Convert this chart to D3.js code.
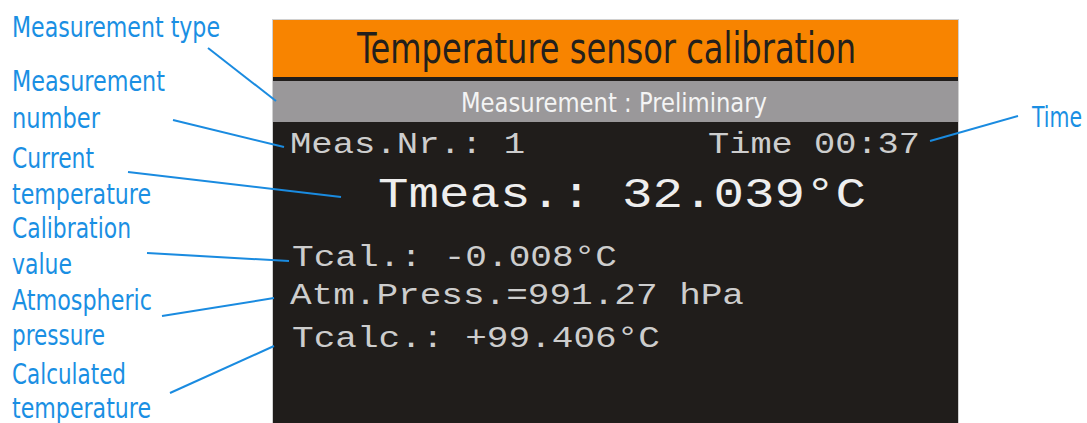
<!DOCTYPE html>
<meta charset="utf-8">
<style>
    body { margin: 0; background: #fff; }
    .lbl { font-family: "Liberation Sans Narrow", "DejaVu Sans Condensed", "Roboto Condensed", sans-serif; fill: #1a8fe3; }
    .mono { font-family: "Liberation Mono", "DejaVu Sans Mono", monospace; fill: #dcdcdc; }
    .lead { stroke: #1a8be0; stroke-width: 2; fill: none; }
</style>
<body>
<script src="https://cdn.jsdelivr.net/npm/d3@7"></script>
<script>

    var width = 1087,
        height = 423;

    // screen texts
    var title = "Temperature sensor calibration";
    var subtitle = "Measurement  : Preliminary";
    var screenRows = ["Meas.Nr.: 1", "Time 00:37", "Tmeas.: 32.039\u00b0C",
                      "Tcal.: -0.008\u00b0C", "Atm.Press.=991.27 hPa", "Tcalc.: +99.406\u00b0C"];
    // layout for screen rows: [x, baseline, width, size]
    var rowX = [290, 708, 378, 292, 290, 292];
    var rowY = [153, 153, 207, 266, 304, 347];
    var rowW = [235, 212, 488, 325, 454, 368];
    var rowSize = [29, 29, 43, 29, 29, 29];

    // annotation labels (lines) and their layout
    var labels = [["Measurement type"], ["Measurement", "number"], ["Current", "temperature"],
                  ["Calibration", "value"], ["Atmospheric", "pressure"], ["Calculated", "temperature"], ["Time"]];
    var labelX = [12, 12, 12, 12, 12, 12, 1032];
    var labelY = [[37], [91, 128], [168, 204], [238, 274], [310, 345], [384, 418], [127]];
    var labelW = [[208], [153, 88], [82, 139], [119, 60], [140, 93], [114, 139], [50]];

    // leader lines [x1, y1, x2, y2]
    var leaders = [[208, 48, 276, 101], [173, 120, 284, 147], [128, 172, 341, 197],
                   [147, 253, 289, 261], [162, 316, 274, 298], [170, 393, 274, 346], [930, 141, 1018, 116]];

    var svg = d3.select("body").append("svg")
        .attr("width", width)
        .attr("height", height);

    // screen
    var scr = svg.append("g");
    scr.append("rect").attr("x", 272).attr("y", 19).attr("width", 687).attr("height", 410)
        .attr("fill", "#d0d0d0");
    scr.append("rect").attr("x", 273).attr("y", 20).attr("width", 685).attr("height", 410)
        .attr("fill", "#201d1b");
    scr.append("rect").attr("x", 273).attr("y", 20).attr("width", 685).attr("height", 57)
        .attr("fill", "#f88400");
    scr.append("rect").attr("x", 273).attr("y", 81).attr("width", 685).attr("height", 41)
        .attr("fill", "#9a989a");

    scr.append("text").attr("x", 357).attr("y", 63)
        .attr("class", "lbl").style("fill", "#231f1c").style("font-size", "42px")
        .attr("textLength", 499).attr("lengthAdjust", "spacingAndGlyphs")
        .text(title);
    scr.append("text").attr("x", 461).attr("y", 112)
        .attr("class", "lbl").style("fill", "#f4f4f4").style("font-size", "27px")
        .attr("textLength", 306).attr("lengthAdjust", "spacingAndGlyphs")
        .text(subtitle);

    scr.selectAll("text.mono")
        .data(screenRows)
        .enter().append("text")
        .attr("class", "mono")
        .attr("x", function(d, i) { return rowX[i]; })
        .attr("y", function(d, i) { return rowY[i]; })
        .style("font-size", function(d, i) { return rowSize[i] + "px"; })
        .style("fill", function(d, i) { return i == 2 ? "#eeeeee" : "#cdcdcd"; })
        .attr("textLength", function(d, i) { return rowW[i]; })
        .attr("lengthAdjust", "spacingAndGlyphs")
        .text(function(d) { return d; });

    // leaders
    svg.selectAll("line.lead")
        .data(leaders)
        .enter().append("line")
        .attr("class", "lead")
        .attr("x1", function(d) { return d[0]; })
        .attr("y1", function(d) { return d[1]; })
        .attr("x2", function(d) { return d[2]; })
        .attr("y2", function(d) { return d[3]; });

    // labels
    labels.forEach(function(lines, i) {
        lines.forEach(function(t, j) {
            svg.append("text")
                .attr("class", "lbl")
                .attr("x", labelX[i])
                .attr("y", labelY[i][j])
                .style("font-size", "28px")
                .attr("textLength", labelW[i][j])
                .attr("lengthAdjust", "spacingAndGlyphs")
                .text(t);
        });
    });

</script>
